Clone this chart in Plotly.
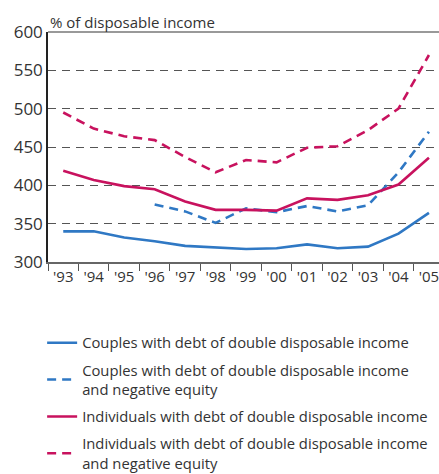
import plotly.graph_objects as go

years = ["'93", "'94", "'95", "'96", "'97", "'98", "'99", "'00", "'01", "'02", "'03", "'04", "'05"]
couples = [340, 340, 332, 327, 321, 319, 317, 318, 323, 318, 320, 337, 364]
couples_neg = [None, None, None, 375, 366, 351, 370, 365, 373, 366, 374, 417, 470]
individuals = [419, 407, 399, 395, 379, 368, 368, 367, 383, 381, 387, 401, 436]
individuals_neg = [495, 474, 464, 459, 437, 417, 433, 430, 449, 451, 472, 500, 570]
y_ticks = [300, 350, 400, 450, 500, 550, 600]

BLUE = "#2F78C4"
RED = "#C8125E"
FONT = "Open Sans, Noto Sans, sans-serif"

xs = list(range(len(years)))

fig = go.Figure()
series = [
    ("Couples with debt of double disposable income", couples, BLUE, "solid"),
    ("Couples with debt of double disposable income<br>and negative equity", couples_neg, BLUE, "dash"),
    ("Individuals with debt of double disposable income", individuals, RED, "solid"),
    ("Individuals with debt of double disposable income<br>and negative equity", individuals_neg, RED, "dash"),
]
for i, (name, vals, col, dash) in enumerate(series):
    fig.add_trace(go.Scatter(
        x=xs, y=vals, name=name, mode="lines", legendgroup=f"g{i}",
        line=dict(color=col, width=2.6, dash="9px,6px" if dash == "dash" else "solid"),
        connectgaps=False,
    ))

fig.update_layout(
    width=439, height=474,
    margin=dict(l=48, r=0, t=32, b=212),
    paper_bgcolor="white", plot_bgcolor="white",
    font=dict(family=FONT, size=14, color="#333333"),
    showlegend=True,
    legend=dict(
        x=-0.015, xanchor="left", xref="paper",
        y=0.311, yanchor="top", yref="container",
        font=dict(family=FONT, size=14.8, color="#333333"),
        tracegroupgap=5, itemwidth=30, bgcolor="rgba(0,0,0,0)",
    ),
    annotations=[dict(
        text="% of disposable income", xref="paper", yref="paper",
        x=0.0, y=1.0, xanchor="left", yanchor="bottom", showarrow=False,
        font=dict(family=FONT, size=15, color="#333333"), xshift=0, yshift=-2,
    )],
    shapes=[dict(type="line", xref="paper", yref="paper", x0=0, x1=1, y0=1, y1=1,
                 line=dict(color="#777777", width=1.5))],
)

fig.update_xaxes(
    range=[-0.5, 12.33], tickmode="array", tickvals=xs, ticktext=years,
    ticks="", showgrid=False, zeroline=False, ticklabeloverflow="allow",
    showline=True, linecolor="#666666", linewidth=1.5,
    tickfont=dict(family=FONT, size=15, color="#333333"),
    minor=dict(tickmode="array", tickvals=[i - 0.5 for i in range(len(years) + 1)],
               ticks="outside", ticklen=7, tickcolor="#555555", tickwidth=1, showgrid=False),
)
fig.update_yaxes(
    range=[300, 600], tickmode="array", tickvals=y_ticks,
    ticks="", showgrid=True, gridcolor="#555555", griddash="8px,6px", gridwidth=1,
    zeroline=False, showline=True, linecolor="#222222", linewidth=1.5,
    tickfont=dict(family=FONT, size=17, color="#333333"), ticklabelstandoff=0,
)

fig.write_html("out.html", config={"displayModeBar": False},
               post_script="document.body.style.margin='0';")
